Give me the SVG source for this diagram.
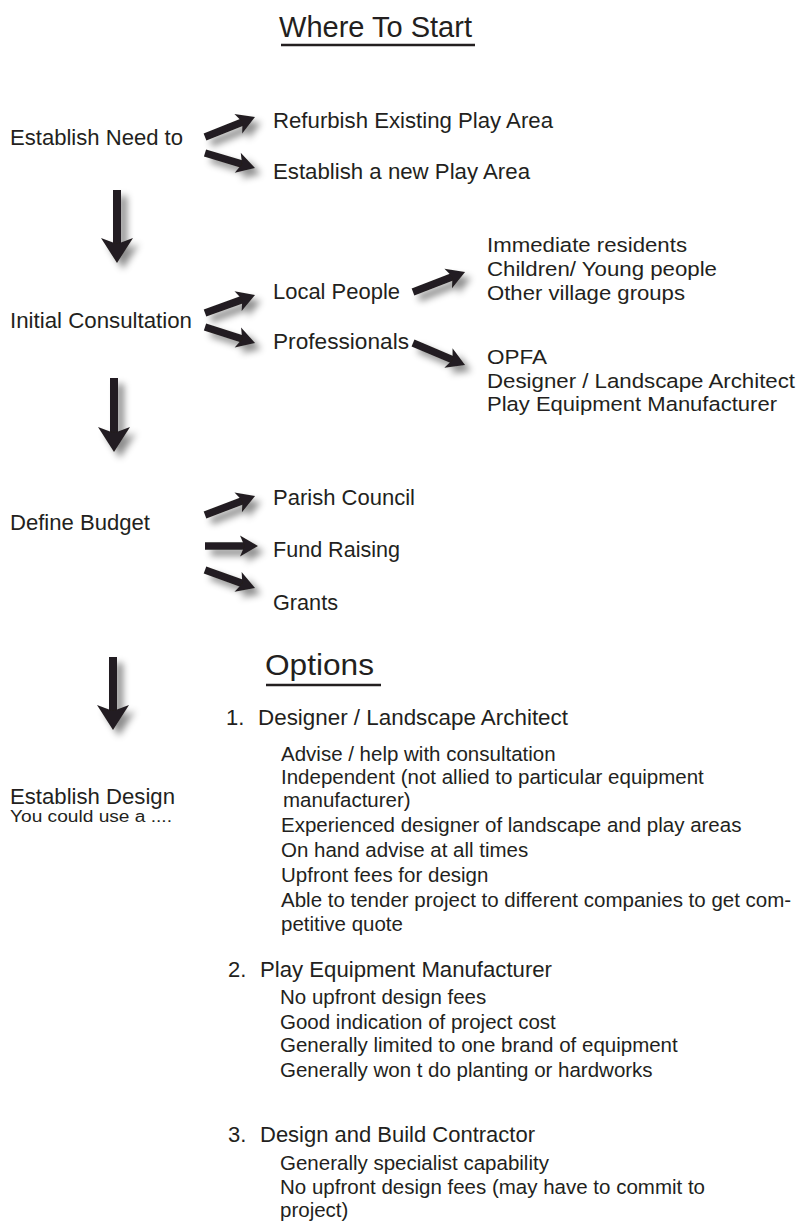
<svg xmlns="http://www.w3.org/2000/svg" width="798" height="1223" viewBox="0 0 798 1223">
<style>
text{font-family:"Liberation Sans",Arial,sans-serif;fill:#231f20}
.h{font-size:22px}
.l{font-size:20.5px}
.s{font-size:20.5px}
.ttl{font-size:29px}
.sm{font-size:16px}
.ul{stroke:#231f20;stroke-width:2.5}
.a{stroke:#231f20;stroke-width:7.5;fill:none;marker-end:url(#hd)}
.v{stroke:#231f20;stroke-width:8;fill:none;marker-end:url(#hv)}
</style>
<defs>
<filter id="sh" x="-20%" y="-20%" width="140%" height="140%">
<feGaussianBlur in="SourceAlpha" stdDeviation="3.5"/>
<feOffset dx="6" dy="6" result="b"/>
<feFlood flood-color="#000" flood-opacity="0.45"/>
<feComposite in2="b" operator="in"/>
<feMerge><feMergeNode/><feMergeNode in="SourceGraphic"/></feMerge>
</filter>
<marker id="hd" markerUnits="userSpaceOnUse" markerWidth="18" markerHeight="21" viewBox="0 -10.5 18 21" refX="8" refY="0" orient="auto" overflow="visible"><path d="M0,-10.5 L18,0 L0,10.5 L4.5,0 z" fill="#231f20"/></marker>
<marker id="hv" markerUnits="userSpaceOnUse" markerWidth="25" markerHeight="32" viewBox="0 -16 25 32" refX="11" refY="0" orient="auto" overflow="visible"><path d="M0,-16 L25,0 L0,16 L6,0 z" fill="#231f20"/></marker>
</defs>
<rect width="798" height="1223" fill="#fff"/>

<g id="title">
<text class="ttl" x="279" y="37" textLength="193" lengthAdjust="spacingAndGlyphs">Where To Start</text>
<line class="ul" x1="281" y1="45" x2="475" y2="45"/>
</g>

<g id="n-need"><text class="h" x="10" y="145" textLength="173" lengthAdjust="spacingAndGlyphs">Establish Need to</text></g>
<g id="n-refurb"><text class="h" x="273" y="128" textLength="280" lengthAdjust="spacingAndGlyphs">Refurbish Existing Play Area</text></g>
<g id="n-new"><text class="h" x="273" y="179" textLength="257" lengthAdjust="spacingAndGlyphs">Establish a new Play Area</text></g>

<g id="n-initial"><text class="h" x="10" y="328" textLength="182" lengthAdjust="spacingAndGlyphs">Initial Consultation</text></g>
<g id="n-local"><text class="h" x="273" y="299" textLength="127" lengthAdjust="spacingAndGlyphs">Local People</text></g>
<g id="n-prof"><text class="h" x="273" y="349" textLength="136" lengthAdjust="spacingAndGlyphs">Professionals</text></g>
<g id="n-local-list">
<text class="l" x="487" y="252" textLength="200" lengthAdjust="spacingAndGlyphs">Immediate residents</text>
<text class="l" x="487" y="276" textLength="230" lengthAdjust="spacingAndGlyphs">Children/ Young people</text>
<text class="l" x="487" y="300" textLength="198" lengthAdjust="spacingAndGlyphs">Other village groups</text>
</g>
<g id="n-prof-list">
<text class="l" x="487" y="364" textLength="60" lengthAdjust="spacingAndGlyphs">OPFA</text>
<text class="l" x="487" y="387.5" textLength="308" lengthAdjust="spacingAndGlyphs">Designer / Landscape Architect</text>
<text class="l" x="487" y="411" textLength="290" lengthAdjust="spacingAndGlyphs">Play Equipment Manufacturer</text>
</g>

<g id="n-budget"><text class="h" x="10" y="530" textLength="140" lengthAdjust="spacingAndGlyphs">Define Budget</text></g>
<g id="n-parish"><text class="h" x="273" y="505" textLength="142" lengthAdjust="spacingAndGlyphs">Parish Council</text></g>
<g id="n-fund"><text class="h" x="273" y="557" textLength="127" lengthAdjust="spacingAndGlyphs">Fund Raising</text></g>
<g id="n-grants"><text class="h" x="273" y="610" textLength="65" lengthAdjust="spacingAndGlyphs">Grants</text></g>

<g id="n-design">
<text class="h" x="10" y="804" textLength="165" lengthAdjust="spacingAndGlyphs">Establish Design</text>
<text class="sm" x="10" y="822" textLength="162" lengthAdjust="spacingAndGlyphs">You could use a ....</text>
</g>

<g id="options">
<text class="ttl" x="265" y="675" textLength="109" lengthAdjust="spacingAndGlyphs">Options</text>
<line class="ul" x1="266" y1="685" x2="381" y2="685"/>
</g>

<g id="opt-1">
<text class="h" x="226" y="725">1.</text>
<text class="h" x="258" y="725" textLength="310" lengthAdjust="spacingAndGlyphs">Designer / Landscape Architect</text>
<text class="s" x="281" y="761">Advise / help with consultation</text>
<text class="s" x="281" y="784">Independent (not allied to particular equipment</text>
<text class="s" x="283" y="807">manufacturer)</text>
<text class="s" x="281" y="832">Experienced designer of landscape and play areas</text>
<text class="s" x="281" y="857">On hand advise at all times</text>
<text class="s" x="281" y="882">Upfront fees for design</text>
<text class="s" x="281" y="907">Able to tender project to different companies to get com-</text>
<text class="s" x="281" y="931">petitive quote</text>
</g>

<g id="opt-2">
<text class="h" x="228" y="977">2.</text>
<text class="h" x="260" y="977" textLength="292" lengthAdjust="spacingAndGlyphs">Play Equipment Manufacturer</text>
<text class="s" x="280" y="1004">No upfront design fees</text>
<text class="s" x="280" y="1029">Good indication of project cost</text>
<text class="s" x="280" y="1052">Generally limited to one brand of equipment</text>
<text class="s" x="280" y="1077">Generally won t do planting or hardworks</text>
</g>

<g id="opt-3">
<text class="h" x="228" y="1142">3.</text>
<text class="h" x="260" y="1142" textLength="275" lengthAdjust="spacingAndGlyphs">Design and Build Contractor</text>
<text class="s" x="280" y="1170">Generally specialist capability</text>
<text class="s" x="280" y="1194">No upfront design fees (may have to commit to</text>
<text class="s" x="280" y="1217">project)</text>
</g>

<g id="connectors" filter="url(#sh)">
<line class="a" x1="205" y1="137" x2="245.7" y2="120.7"/>
<line class="a" x1="205" y1="153" x2="245.4" y2="165.1"/>
<line class="v" x1="117" y1="190" x2="117" y2="249"/>
<line class="a" x1="205" y1="313" x2="245.6" y2="298.4"/>
<line class="a" x1="205" y1="327" x2="245.5" y2="340"/>
<line class="a" x1="413" y1="292" x2="455.7" y2="275.6"/>
<line class="a" x1="413" y1="343" x2="455.8" y2="361.1"/>
<line class="v" x1="114" y1="378" x2="114" y2="438"/>
<line class="a" x1="205" y1="515" x2="245.7" y2="499.6"/>
<line class="a" x1="205" y1="546" x2="248" y2="546"/>
<line class="a" x1="205" y1="570" x2="245.6" y2="584.6"/>
<line class="v" x1="113" y1="657" x2="113" y2="716"/>
</g>
</svg>
